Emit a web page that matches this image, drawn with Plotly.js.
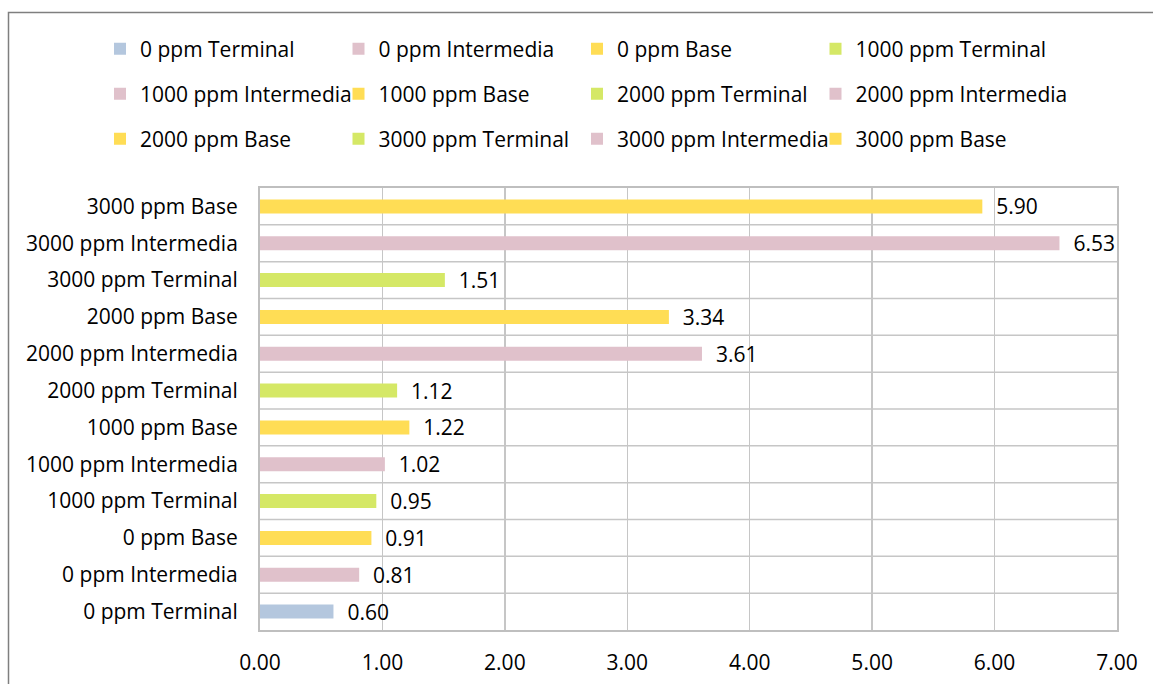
<!DOCTYPE html>
<html>
<head>
<meta charset="utf-8">
<script src="https://cdn.plot.ly/plotly-3.0.1.min.js"></script>
<style>html,body{margin:0;padding:0;background:#fff}#chart{width:1153px;height:684px}</style>
</head>
<body>
<div id="chart"></div>
<script>
// Data (bottom to top on the chart)
var categories = [
  "0 ppm Terminal", "0 ppm Intermedia", "0 ppm Base",
  "1000 ppm Terminal", "1000 ppm Intermedia", "1000 ppm Base",
  "2000 ppm Terminal", "2000 ppm Intermedia", "2000 ppm Base",
  "3000 ppm Terminal", "3000 ppm Intermedia", "3000 ppm Base"
];
var values = [0.60, 0.81, 0.91, 0.95, 1.02, 1.22, 1.12, 3.61, 3.34, 1.51, 6.53, 5.90];
var xTickVals = [0, 1, 2, 3, 4, 5, 6, 7];

var colors = [
  "#b4c7de", "#e0c1cb", "#ffdd55",
  "#d5e866", "#e0c1cb", "#ffdd55",
  "#d5e866", "#e0c1cb", "#ffdd55",
  "#d5e866", "#e0c1cb", "#ffdd55"
];

var FONT = "'Open Sans', sans-serif";
var FS = 21;

function legendKey(i) { return i === 0 ? "legend" : "legend" + (i + 1); }

var traces = categories.map(function (c, i) {
  return {
    type: "bar",
    orientation: "h",
    name: c,
    x: [values[i]],
    y: [c],
    width: 0.38,
    marker: { color: colors[i] },
    texttemplate: "\u00a0\u00a0%{x:.2f}",
    textposition: "outside",
    constraintext: "none",
    cliponaxis: false,
    textfont: { family: FONT, size: FS, color: "#000" },
    legend: legendKey(i),
    hoverinfo: "x+y"
  };
});

var shapes = [];
for (var k = 1; k < categories.length; k++) {
  shapes.push({
    type: "line", xref: "paper", yref: "y",
    x0: 0, x1: 1, y0: k - 0.5, y1: k - 0.5,
    line: { color: "#c6c6c6", width: 1.5 }, layer: "below"
  });
}
// outer chart border
shapes.push({
  type: "rect", xref: "paper", yref: "paper",
  x0: (8.5 - 260) / 857, x1: 1.06, y0: -0.2, y1: (630 - 12.5) / 442,
  line: { color: "#7f7f7f", width: 1.5 }, fillcolor: "rgba(0,0,0,0)"
});

var layout = {
  width: 1153, height: 684,
  margin: { l: 260, r: 36, t: 188, b: 54 },
  paper_bgcolor: "#fff", plot_bgcolor: "#fff",
  barmode: "overlay",
  showlegend: true,
  xaxis: {
    range: [0, 7], tickvals: xTickVals, tickformat: ".2f",
    showgrid: true, gridcolor: "#c6c6c6", gridwidth: 1.5,
    showline: true, linecolor: "#bfbfbf", linewidth: 2, mirror: true,
    zeroline: false, ticks: "", ticklabelstandoff: 13,
    tickfont: { family: FONT, size: FS, color: "#000" },
    fixedrange: true
  },
  yaxis: {
    type: "category", categoryorder: "array", categoryarray: categories,
    range: [-0.5, categories.length - 0.5],
    showgrid: false, showline: true, linecolor: "#bfbfbf", linewidth: 2, mirror: true,
    ticks: "", ticklabelstandoff: 16,
    tickfont: { family: FONT, size: FS, color: "#000" },
    fixedrange: true
  },
  shapes: shapes
};

// one legend box per entry, laid out in 4 columns x 3 rows like the reference
var legendColX = 100, legendColStep = 238.5;
var legendRowY = [49, 94, 139];
categories.forEach(function (c, i) {
  var col = i % 4, row = Math.floor(i / 4);
  layout[legendKey(i)] = {
    orientation: "h",
    x: (legendColX + col * legendColStep - 260) / 857, xanchor: "left",
    y: (630 - legendRowY[row]) / 442, yanchor: "middle",
    font: { family: FONT, size: FS, color: "#000" },
    bgcolor: "rgba(0,0,0,0)"
  };
});

Plotly.newPlot("chart", traces, layout, { displayModeBar: false, staticPlot: true });
</script>
</body>
</html>
